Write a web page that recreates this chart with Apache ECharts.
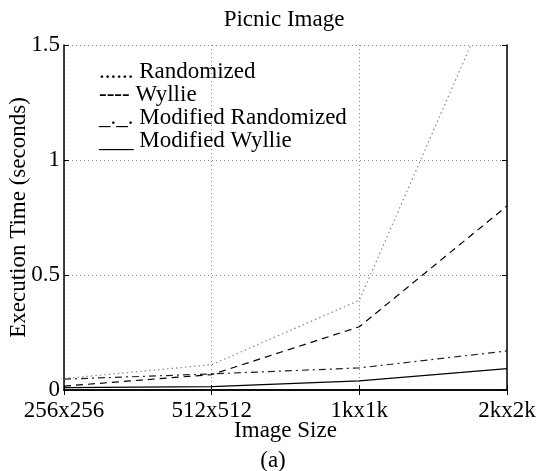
<!DOCTYPE html>
<html>
<head>
<meta charset="utf-8">
<script src="https://cdn.jsdelivr.net/npm/echarts@6/dist/echarts.min.js"></script>
<style>html,body{margin:0;padding:0;background:#fff}#c{width:542px;height:471px}</style>
</head>
<body>
<div id="c"></div>
<script>
const categories = ['256x256', '512x512', '1kx1k', '2kx2k'];
const randomized = [0.05, 0.11, 0.39, 1.86];
const wyllie = [0.017, 0.067, 0.275, 0.8];
const modRandomized = [0.047, 0.07, 0.096, 0.17];
const modWyllie = [0.01, 0.015, 0.04, 0.093];
const seriesNames = ['Randomized', 'Wyllie', 'Modified Randomized', 'Modified Wyllie'];
const legendPrefix = ['......', '----', '_._.', '___'];

const FONT = '"Liberation Serif", "DejaVu Serif", serif';
const chart = echarts.init(document.getElementById('c'), null, {renderer: 'canvas'});
const gridDotted = {show: true, lineStyle: {color: '#888', type: [1, 3], width: 1}};
chart.setOption({
  animation: false,
  backgroundColor: '#fff',
  textStyle: {fontFamily: FONT, color: '#000'},
  legend: {
    orient: 'vertical', left: 89, top: 55, itemGap: 0, itemWidth: 0, itemHeight: 10,
    icon: 'none', selectedMode: false,
    data: seriesNames,
    formatter: function (n) { return legendPrefix[seriesNames.indexOf(n)] + ' ' + n; },
    textStyle: {fontFamily: FONT, fontSize: 23, color: '#000', lineHeight: 22.5}
  },
  grid: {left: 64, right: 35, top: 45, bottom: 81, outerBoundsMode: 'none', containLabel: false},
  xAxis: [{
    type: 'category', data: categories, boundaryGap: false, position: 'bottom',
    axisLine: {lineStyle: {color: '#000', width: 1.5}},
    axisTick: {show: true, inside: true, length: 5, lineStyle: {color: '#000'}},
    axisLabel: {fontFamily: FONT, fontSize: 23, color: '#000', margin: 9},
    splitLine: gridDotted,
    name: 'Image Size', nameLocation: 'middle', nameGap: 29, nameMoveOverlap: false,
    nameTextStyle: {fontFamily: FONT, fontSize: 23, color: '#000'}
  }, {
    type: 'category', data: categories, boundaryGap: false, position: 'top',
    axisLine: {show: true, lineStyle: {color: '#000', width: 1.5}},
    axisTick: {show: true, inside: true, length: 5, lineStyle: {color: '#000'}},
    axisLabel: {show: false}, splitLine: {show: false}
  }],
  yAxis: [{
    type: 'value', min: 0, max: 1.5, interval: 0.5, position: 'left',
    axisLine: {show: true, lineStyle: {color: '#000', width: 1.5}},
    axisTick: {show: true, inside: true, length: 5, lineStyle: {color: '#000'}},
    axisLabel: {fontFamily: FONT, fontSize: 23, color: '#000', margin: 4},
    splitLine: gridDotted,
    name: 'Execution Time (seconds)', nameLocation: 'middle', nameGap: 34, nameMoveOverlap: false,
    nameTextStyle: {fontFamily: FONT, fontSize: 23, color: '#000'}
  }, {
    type: 'value', min: 0, max: 1.5, interval: 0.5, position: 'right',
    axisLine: {show: true, lineStyle: {color: '#000', width: 1.5}},
    axisTick: {show: true, inside: true, length: 5, lineStyle: {color: '#000'}},
    axisLabel: {show: false}, splitLine: {show: false}
  }],
  graphic: [{
    type: 'text', x: 284, y: 8,
    style: {text: 'Picnic Image', fontFamily: FONT, fontSize: 23, fill: '#000', textAlign: 'center', textVerticalAlign: 'top'}
  }, {
    type: 'text', x: 273, y: 449,
    style: {text: '(a)', fontFamily: FONT, fontSize: 23, fill: '#000', textAlign: 'center', textVerticalAlign: 'top'}
  }],
  series: [
    {name: seriesNames[0], type: 'line', data: randomized, symbol: 'none', clip: true,
     lineStyle: {color: '#888', width: 1.2, type: [1.5, 3]}, itemStyle: {color: '#888'}},
    {name: seriesNames[1], type: 'line', data: wyllie, symbol: 'none', clip: true,
     lineStyle: {color: '#000', width: 1.2, type: [7, 5]}, itemStyle: {color: '#000'}},
    {name: seriesNames[2], type: 'line', data: modRandomized, symbol: 'none', clip: true,
     lineStyle: {color: '#222', width: 1.2, type: [7, 4, 2, 4]}, itemStyle: {color: '#222'}},
    {name: seriesNames[3], type: 'line', data: modWyllie, symbol: 'none', clip: true,
     lineStyle: {color: '#000', width: 1.2, type: 'solid'}, itemStyle: {color: '#000'}}
  ]
});
</script>
</body>
</html>
